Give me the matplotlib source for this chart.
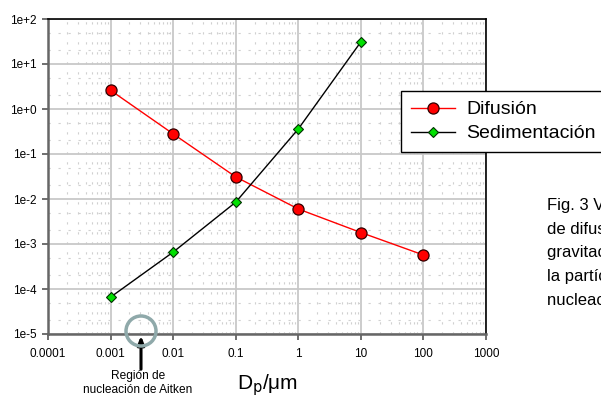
"""Velocidad de difusion y sedimentacion frente al tamano de particula."""

import matplotlib
matplotlib.use("Agg")
import matplotlib.pyplot as plt
from matplotlib.patches import Circle
from matplotlib.ticker import FixedLocator, FixedFormatter, LogLocator, NullFormatter

plt.rcParams["font.family"] = ["Liberation Sans", "DejaVu Sans"]

diameters = [0.001, 0.01, 0.1, 1, 10, 100]
difusion = [2.6, 0.28, 0.031, 0.006, 0.0018, 0.00057]
sed_diameters = [0.001, 0.01, 0.1, 1, 10]
sedimentacion = [6.6e-5, 6.6e-4, 0.0085, 0.36, 31]

x_ticks = [1e-4, 1e-3, 1e-2, 1e-1, 1, 10, 100, 1000]
x_labels = ["0.0001", "0.001", "0.01", "0.1", "1", "10", "100", "1000"]
y_ticks = [1e-5, 1e-4, 1e-3, 1e-2, 1e-1, 1, 10, 100]
y_labels = ["1e-5", "1e-4", "1e-3", "1e-2", "1e-1", "1e+0", "1e+1", "1e+2"]


def main() -> None:
    fig = plt.figure(figsize=(6.01, 3.99), dpi=100)
    ax = fig.add_axes([48 / 601, 1 - 334 / 399, 438 / 601, 315 / 399])

    ax.set_xscale("log")
    ax.set_yscale("log")
    ax.set_xlim(1e-4, 1e3)
    ax.set_ylim(1e-5, 1e2)

    ax.xaxis.set_major_locator(FixedLocator(x_ticks))
    ax.xaxis.set_major_formatter(FixedFormatter(x_labels))
    ax.yaxis.set_major_locator(FixedLocator(y_ticks))
    ax.yaxis.set_major_formatter(FixedFormatter(y_labels))
    ax.xaxis.set_minor_locator(LogLocator(base=10, subs=(2, 3, 4, 5, 6, 7, 8, 9)))
    ax.yaxis.set_minor_locator(LogLocator(base=10, subs=(2, 5)))
    for axis in (ax.xaxis, ax.yaxis):
        axis.set_minor_formatter(NullFormatter())

    ax.grid(True, which="major", color="#c8c8c8", linewidth=1.3, linestyle="-")
    ax.grid(True, which="minor", color="#d0d0d0", linewidth=0.8, linestyle=(0, (2, 7)))
    ax.set_axisbelow(True)

    ax.tick_params(which="major", direction="out", length=4, width=1.2,
                   labelsize=8.5, color="#555555", pad=4)
    ax.tick_params(axis="x", which="major", pad=6)
    ax.tick_params(which="minor", length=0)

    for side in ("left", "bottom"):
        ax.spines[side].set_color("#666666")
        ax.spines[side].set_linewidth(1.8)
    for side in ("top", "right"):
        ax.spines[side].set_color("black")
        ax.spines[side].set_linewidth(1.2)

    l1, = ax.plot(diameters, difusion, color="red", linewidth=1,
                  marker="o", markersize=8, markerfacecolor="red",
                  markeredgecolor="#300000", markeredgewidth=0.9, label="Difusión")
    l2, = ax.plot(sed_diameters, sedimentacion, color="black", linewidth=1,
                  marker="D", markersize=5.5, markerfacecolor="#00e000",
                  markeredgecolor="#003000", markeredgewidth=0.8, label="Sedimentación")

    leg = fig.legend(handles=[l1, l2], loc="upper left",
                     bbox_to_anchor=(401 / 601, 1 - 91 / 399), borderaxespad=0,
                     fontsize=14, frameon=True, fancybox=False, framealpha=1,
                     edgecolor="black", handlelength=2.3, borderpad=0.5,
                     labelspacing=0.33, handletextpad=0.57)
    leg.get_frame().set_linewidth(1.0)

    # circle and arrow marking the Aitken nucleation region
    circ = Circle((141, 399 - 331), 15, transform=None, fill=False,
                  edgecolor="#8fa9aa", linewidth=2.5, zorder=5, clip_on=False)
    fig.add_artist(circ)
    ax.annotate("", xy=(141 / 601, 1 - 333 / 399), xytext=(141 / 601, 1 - 372 / 399),
                xycoords="figure fraction", textcoords="figure fraction",
                arrowprops=dict(arrowstyle="-|>,head_length=0.5,head_width=0.2",
                                color="black", linewidth=2.2), annotation_clip=False)
    fig.text(138 / 601, 1 - 383 / 399, "Región de\nnucleación de Aitken",
             ha="center", va="center", fontsize=8.6, linespacing=1.2)

    fig.text(268 / 601, 1 - 385 / 399, r"D$_{\mathrm{p}}$/μm",
             ha="center", va="center", fontsize=15)

    fig.text(547 / 601, 1 - 253 / 399,
             "Fig. 3 Velocidad\nde difusión y sedimentación\ngravitacional en función\n"
             "la partícula. Región de\nnucleación de Aitken",
             ha="left", va="center", fontsize=12, linespacing=1.74)

    fig.savefig("out.png", dpi=100)
    plt.close(fig)


if __name__ == "__main__":
    main()
